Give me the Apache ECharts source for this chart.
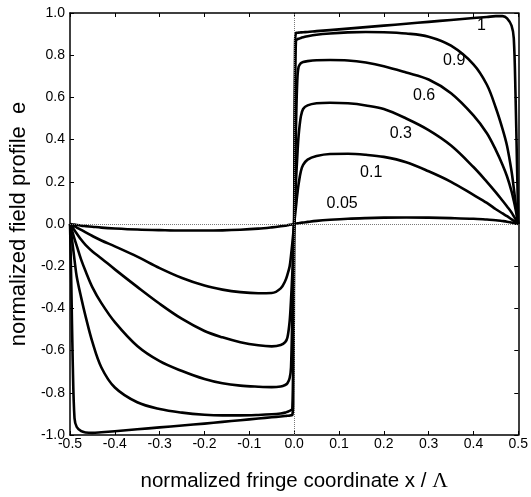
<!DOCTYPE html>
<html>
<head>
<meta charset="utf-8">
<script src="https://cdn.jsdelivr.net/npm/echarts@6/dist/echarts.min.js"></script>
<style>
  html, body { margin: 0; padding: 0; background: #fff; }
  #chart { width: 531px; height: 497px; }
</style>
</head>
<body>
<div id="chart"></div>
<script>
// Normalized fringe coordinate x / Λ (shared sampling for all profiles)
const xs = [
  -0.5, -0.497, -0.494, -0.49, -0.485, -0.475, -0.465, -0.45, -0.43, -0.4,
  -0.35, -0.3, -0.25, -0.2, -0.16, -0.12, -0.08, -0.05, -0.03, -0.02,
  -0.015, -0.01, -0.007, -0.004, -0.002,
  0,
  0.002, 0.004, 0.007, 0.01, 0.015, 0.02, 0.03, 0.05, 0.08, 0.12,
  0.16, 0.2, 0.25, 0.3, 0.35, 0.4, 0.43, 0.45, 0.465, 0.475,
  0.485, 0.49, 0.494, 0.497, 0.5
];

// Field profile e for each parameter value
const e100 = [
  0, -0.3, -0.65, -0.92, -0.962, -0.982, -0.988, -0.99, -0.987, -0.982,
  -0.973, -0.964, -0.955, -0.946, -0.938, -0.93, -0.922, -0.916, -0.912, -0.91,
  -0.909, -0.908, -0.907, -0.905, -0.85,
  0,
  0.85, 0.905, 0.906, 0.907, 0.908, 0.909, 0.91, 0.914, 0.919, 0.926,
  0.933, 0.94, 0.949, 0.958, 0.967, 0.976, 0.981, 0.985, 0.985, 0.975,
  0.94, 0.88, 0.6, 0.3, 0
];
const e090 = [
  0, -0.05, -0.1, -0.17, -0.25, -0.35, -0.44, -0.56, -0.68, -0.775,
  -0.845, -0.877, -0.894, -0.904, -0.907, -0.907, -0.905, -0.902, -0.898, -0.894,
  -0.89, -0.886, -0.882, -0.876, -0.6,
  0,
  0.6, 0.87, 0.875, 0.878, 0.882, 0.885, 0.89, 0.897, 0.903, 0.908,
  0.91, 0.909, 0.903, 0.888, 0.845, 0.757, 0.66, 0.55, 0.45, 0.37,
  0.25, 0.17, 0.1, 0.05, 0
];
const e060 = [
  0, -0.021, -0.042, -0.07, -0.104, -0.17, -0.225, -0.3, -0.375, -0.465,
  -0.578, -0.65, -0.697, -0.735, -0.755, -0.766, -0.771, -0.773, -0.77, -0.763,
  -0.755, -0.73, -0.68, -0.42, -0.2,
  0,
  0.2, 0.45, 0.68, 0.745, 0.762, 0.768, 0.772, 0.776, 0.777, 0.775,
  0.765, 0.748, 0.718, 0.685, 0.62, 0.515, 0.43, 0.35, 0.28, 0.225,
  0.155, 0.11, 0.07, 0.035, 0
];
const e030 = [
  0, -0.009, -0.018, -0.03, -0.045, -0.075, -0.1, -0.13, -0.163, -0.215,
  -0.298, -0.378, -0.45, -0.507, -0.537, -0.56, -0.575, -0.58, -0.574, -0.56,
  -0.538, -0.46, -0.36, -0.23, -0.12,
  0,
  0.1, 0.2, 0.32, 0.42, 0.51, 0.545, 0.562, 0.572, 0.575, 0.572,
  0.562, 0.545, 0.5, 0.445, 0.372, 0.27, 0.2, 0.15, 0.11, 0.083,
  0.055, 0.037, 0.022, 0.011, 0
];
const e010 = [
  0, -0.003, -0.007, -0.011, -0.017, -0.028, -0.04, -0.057, -0.078, -0.106,
  -0.155, -0.209, -0.256, -0.292, -0.311, -0.323, -0.328, -0.327, -0.305, -0.27,
  -0.24, -0.2, -0.15, -0.09, -0.045,
  0,
  0.04, 0.08, 0.14, 0.19, 0.25, 0.28, 0.305, 0.322, 0.332, 0.333,
  0.328, 0.318, 0.293, 0.25, 0.2, 0.138, 0.1, 0.07, 0.05, 0.037,
  0.022, 0.015, 0.009, 0.004, 0
];
const e005 = [
  0, -0.001, -0.002, -0.003, -0.005, -0.008, -0.01, -0.013, -0.017, -0.021,
  -0.026, -0.029, -0.031, -0.031, -0.03, -0.027, -0.022, -0.016, -0.011, -0.008,
  -0.006, -0.004, -0.003, -0.002, -0.001,
  0,
  0.001, 0.002, 0.003, 0.004, 0.006, 0.007, 0.01, 0.015, 0.02, 0.025,
  0.028, 0.03, 0.031, 0.03, 0.028, 0.025, 0.021, 0.018, 0.014, 0.011,
  0.007, 0.005, 0.003, 0.002, 0
];

const curveNames = ['1', '0.9', '0.6', '0.3', '0.1', '0.05'];
const curveValues = [e100, e090, e060, e030, e010, e005];
// Where each curve's parameter is written, in data units
const curveLabelAnchors = [
  [0.418, 0.94], [0.357, 0.775], [0.29, 0.61],
  [0.238, 0.43], [0.172, 0.243], [0.107, 0.097]
];

const FONT = '"Liberation Sans", Arial, Helvetica, sans-serif';
const fmt = v => (Math.abs(v) < 1e-9 ? '0.0' : v.toFixed(1));

const chart = echarts.init(document.getElementById('chart'), null, { renderer: 'canvas' });

const frameLine = { show: true, onZero: false, lineStyle: { color: '#000', width: 1.5 } };
const innerTicks = { show: true, inside: true, length: 4, lineStyle: { color: '#000', width: 1 } };

const lineSeries = curveValues.map((vals, i) => ({
  name: curveNames[i],
  type: 'line',
  xAxisIndex: 0,
  yAxisIndex: 0,
  data: xs.map((x, k) => [x, vals[k]]),
  showSymbol: false,
  symbol: 'none',
  smooth: 0.35,
  lineStyle: { color: '#000', width: 2.6, join: 'round' },
  z: 3,
  silent: true
}));

// Dotted zero lines through the origin
const zeroLines = {
  type: 'line',
  data: [],
  xAxisIndex: 0,
  yAxisIndex: 0,
  z: 1,
  markLine: {
    silent: true,
    symbol: ['none', 'none'],
    label: { show: false },
    lineStyle: { type: 'dotted', color: '#777', width: 1 },
    data: [{ xAxis: 0 }, { yAxis: 0 }]
  }
};

chart.setOption({
  animation: false,
  backgroundColor: '#fff',
  grid: { left: 67, right: 12, top: 13, bottom: 59, containLabel: false },
  xAxis: [
    {
      type: 'value', position: 'bottom', min: -0.5, max: 0.5, interval: 0.1,
      axisLine: frameLine, axisTick: innerTicks, splitLine: { show: false },
      axisLabel: { color: '#000', fontFamily: FONT, fontSize: 14, margin: 2, formatter: fmt },
      name: 'normalized fringe coordinate x / {g|Λ}',
      nameLocation: 'middle', nameGap: 35,
      nameTextStyle: {
        color: '#000', fontFamily: FONT, fontSize: 20.5,
        rich: { g: { fontFamily: '"Liberation Serif", "DejaVu Serif", serif', fontSize: 21.5, color: '#000' } }
      }
    },
    {
      type: 'value', position: 'top', min: -0.5, max: 0.5, interval: 0.1,
      axisLine: frameLine, axisTick: innerTicks, splitLine: { show: false },
      axisLabel: { show: false }
    }
  ],
  yAxis: [
    {
      type: 'value', position: 'left', min: -1, max: 1, interval: 0.2,
      axisLine: frameLine, axisTick: innerTicks, splitLine: { show: false },
      axisLabel: { color: '#000', fontFamily: FONT, fontSize: 14, margin: 5, formatter: fmt },
      name: 'normalized field profile  e',
      nameLocation: 'middle', nameGap: 36,
      nameTextStyle: { color: '#000', fontFamily: FONT, fontSize: 22 }
    },
    {
      type: 'value', position: 'right', min: -1, max: 1, interval: 0.2,
      axisLine: frameLine, axisTick: innerTicks, splitLine: { show: false },
      axisLabel: { show: false }
    }
  ],
  series: [zeroLines].concat(lineSeries)
});

// Parameter labels placed next to their curves
const graphics = curveNames.map((name, i) => {
  const p = chart.convertToPixel({ gridIndex: 0 }, curveLabelAnchors[i]);
  return {
    type: 'text',
    x: p[0],
    y: p[1],
    z: 10,
    style: {
      text: name,
      fill: '#000',
      font: '16px ' + FONT,
      textAlign: 'center',
      textVerticalAlign: 'middle'
    }
  };
});
chart.setOption({ graphic: graphics });
</script>
</body>
</html>
